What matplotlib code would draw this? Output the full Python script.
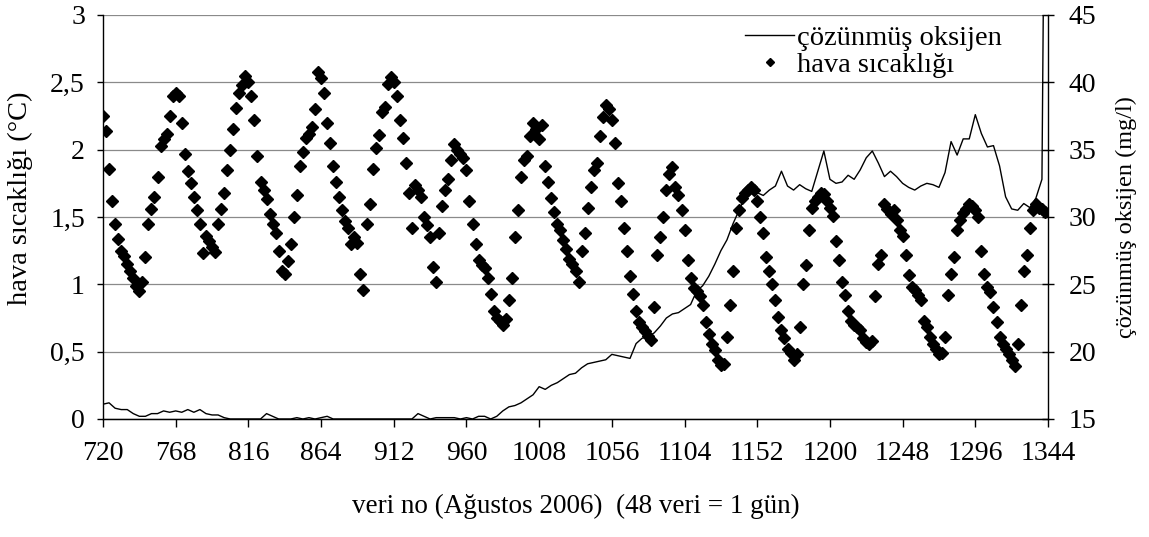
import numpy as np
import matplotlib
matplotlib.use("Agg")
import matplotlib.pyplot as plt
from matplotlib.lines import Line2D

plt.rcParams['font.family'] = ['Liberation Serif', 'DejaVu Serif']

# ---------------------------------------------------------------- data
# air temperature, one reading every 2 records (left axis)
temp_x = np.arange(720, 1343, 2)
hava_sicakligi = [
    # 720 - 766
    2.25, 2.14, 1.86, 1.62, 1.45, 1.34, 1.25, 1.21, 1.15, 1.10, 1.05, 0.99,
    0.95, 1.02, 1.20, 1.45, 1.56, 1.65, 1.80, 2.03, 2.08, 2.12, 2.25, 2.40,
    # 768 - 814
    2.42, 2.40, 2.20, 1.97, 1.84, 1.75, 1.65, 1.55, 1.45, 1.23, 1.36, 1.32,
    1.28, 1.24, 1.45, 1.56, 1.68, 1.85, 2.00, 2.15, 2.31, 2.42, 2.48, 2.55,
    # 816 - 862
    2.50, 2.40, 2.22, 1.95, 1.76, 1.70, 1.63, 1.52, 1.45, 1.38, 1.25, 1.10,
    1.08, 1.17, 1.30, 1.50, 1.66, 1.88, 1.98, 2.09, 2.12, 2.17, 2.30, 2.58,
    # 864 - 910
    2.53, 2.42, 2.20, 2.05, 1.88, 1.76, 1.65, 1.55, 1.47, 1.42, 1.30, 1.35,
    1.31, 1.08, 0.96, 1.45, 1.60, 1.86, 2.01, 2.11, 2.28, 2.32, 2.49, 2.54,
    # 912 - 958
    2.50, 2.40, 2.22, 2.09, 1.90, 1.68, 1.42, 1.74, 1.70, 1.65, 1.50, 1.44,
    1.35, 1.13, 1.02, 1.38, 1.58, 1.70, 1.78, 1.92, 2.04, 2.00, 1.97, 1.94,
    # 960 - 1006
    1.85, 1.62, 1.45, 1.30, 1.18, 1.14, 1.12, 1.05, 0.93, 0.80, 0.75, 0.73,
    0.70, 0.74, 0.88, 1.05, 1.35, 1.55, 1.80, 1.92, 1.95, 2.10, 2.20, 2.15,
    # 1008 - 1054
    2.08, 2.18, 1.88, 1.76, 1.64, 1.54, 1.45, 1.40, 1.33, 1.26, 1.19, 1.15,
    1.10, 1.02, 1.25, 1.38, 1.57, 1.72, 1.85, 1.90, 2.10, 2.24, 2.33, 2.30,
    # 1056 - 1102
    2.22, 2.05, 1.75, 1.62, 1.42, 1.25, 1.06, 0.93, 0.80, 0.72, 0.68, 0.65,
    0.62, 0.59, 0.83, 1.22, 1.35, 1.50, 1.70, 1.82, 1.87, 1.72, 1.66, 1.55,
    # 1104 - 1150
    1.40, 1.18, 1.05, 0.97, 0.95, 0.91, 0.85, 0.72, 0.63, 0.56, 0.51, 0.44,
    0.40, 0.41, 0.61, 0.85, 1.10, 1.42, 1.55, 1.64, 1.68, 1.70, 1.72, 1.70,
    # 1152 - 1198
    1.62, 1.50, 1.38, 1.20, 1.10, 1.00, 0.88, 0.76, 0.66, 0.60, 0.52, 0.49,
    0.44, 0.48, 0.68, 1.00, 1.14, 1.40, 1.57, 1.62, 1.65, 1.68, 1.67, 1.62,
    # 1200 - 1246
    1.57, 1.51, 1.32, 1.18, 1.02, 0.92, 0.80, 0.73, 0.70, 0.68, 0.66, 0.60,
    0.57, 0.56, 0.58, 0.91, 1.15, 1.22, 1.60, 1.56, 1.52, 1.55, 1.48, 1.40,
    # 1248 - 1294
    1.36, 1.22, 1.07, 0.98, 0.96, 0.92, 0.88, 0.73, 0.68, 0.61, 0.56, 0.52,
    0.48, 0.49, 0.61, 0.92, 1.08, 1.20, 1.40, 1.48, 1.53, 1.56, 1.60, 1.58,
    # 1296 - 1342
    1.55, 1.50, 1.25, 1.08, 0.98, 0.94, 0.83, 0.72, 0.61, 0.56, 0.52, 0.48,
    0.44, 0.39, 0.56, 0.85, 1.10, 1.22, 1.42, 1.55, 1.60, 1.57, 1.56, 1.54,
]

# dissolved oxygen, one reading every 4 records (right axis)
do_x = np.r_[np.arange(720, 1341, 4), 1341]
cozunmus_oksijen = [
    # 720 - 808
    16.1, 16.2, 15.8, 15.7, 15.7, 15.4, 15.2, 15.2, 15.4, 15.4, 15.6, 15.5,
    15.6, 15.5, 15.7, 15.5, 15.7, 15.4, 15.3, 15.3, 15.1, 15.0, 15.0,
    # 812 - 900
    15.0, 15.0, 15.0, 15.0, 15.4, 15.2, 15.0, 15.0, 15.0, 15.1, 15.0, 15.1,
    15.0, 15.1, 15.2, 15.0, 15.0, 15.0, 15.0, 15.0, 15.0, 15.0, 15.0,
    # 904 - 992
    15.0, 15.0, 15.0, 15.0, 15.0, 15.0, 15.4, 15.2, 15.0, 15.1, 15.1, 15.1,
    15.1, 15.0, 15.1, 15.0, 15.2, 15.2, 15.0, 15.2, 15.6, 15.9, 16.0,
    # 996 - 1084
    16.2, 16.5, 16.8, 17.4, 17.2, 17.5, 17.7, 18.0, 18.3, 18.4, 18.8, 19.1,
    19.2, 19.3, 19.4, 19.8, 19.7, 19.6, 19.5, 20.6, 21.0, 21.1, 21.4,
    # 1088 - 1176
    21.9, 22.5, 22.8, 22.9, 23.2, 23.5, 24.5, 24.9, 25.6, 26.5, 27.5, 28.3,
    29.5, 30.5, 31.5, 31.8, 31.8, 31.6, 32.0, 32.3, 33.4, 32.3, 32.0,
    # 1180 - 1268
    32.4, 32.1, 31.9, 33.4, 34.9, 32.8, 32.5, 32.6, 33.1, 32.8, 33.5, 34.4,
    34.9, 34.0, 33.0, 33.4, 33.0, 32.5, 32.2, 32.0, 32.3, 32.5, 32.4,
    # 1272 - 1341
    32.2, 33.3, 35.6, 34.6, 35.8, 35.8, 37.6, 36.2, 35.2, 35.3, 33.8, 31.5,
    30.6, 30.5, 31.0, 30.7, 31.4, 32.8, 47.0,
]

x_ticks = [720, 768, 816, 864, 912, 960, 1008, 1056, 1104, 1152, 1200, 1248, 1296, 1344]
left_ticks = [0, 0.5, 1, 1.5, 2, 2.5, 3]
left_tick_labels = ["0", "0,5", "1", "1,5", "2", "2,5", "3"]
right_ticks = [15, 20, 25, 30, 35, 40, 45]

# ---------------------------------------------------------------- figure
fig = plt.figure(figsize=(11.49, 5.37), dpi=100)
ax = fig.add_axes([103 / 1149, 118 / 537, 945 / 1149, 404 / 537])
ax2 = ax.twinx()

ax.set_xlim(720, 1344)
ax.set_ylim(0, 3)
ax2.set_ylim(15, 45)

ax.set_yticks(left_ticks)
ax.set_yticklabels(left_tick_labels)
ax.set_xticks(x_ticks)
ax.set_xticklabels([str(t) for t in x_ticks])
ax2.set_yticks(right_ticks)

for y in left_ticks:
    ax.axhline(y, color="#8a8a8a", lw=0.9, zorder=0)

ax.plot(temp_x, hava_sicakligi, linestyle="none", marker="D",
        markersize=5.8, color="black", zorder=3)
ax2.plot(do_x, cozunmus_oksijen, color="black", lw=1.0, zorder=2)

for a in (ax, ax2):
    a.spines["top"].set_visible(False)
ax.spines["right"].set_visible(False)
ax2.spines["left"].set_visible(False)
for s in (ax.spines["left"], ax.spines["bottom"], ax2.spines["right"]):
    s.set_linewidth(1.0)

ax.tick_params(axis="x", direction="out", length=6, width=1, pad=10, labelsize=20)
ax.tick_params(axis="y", direction="out", length=4, width=1, pad=9, labelsize=20)
ax2.tick_params(axis="y", direction="inout", length=8, width=1, pad=11, labelsize=20)

ax.set_ylabel("hava sıcaklığı (°C)", fontsize=20.5)
ax.yaxis.set_label_coords(-0.074, 0.547)
ax2.set_ylabel("çözünmüş oksijen (mg/l)", fontsize=17.5, labelpad=14)
ax.set_xlabel("veri no (Ağustos 2006)  (48 veri = 1 gün)", fontsize=19.5, labelpad=20)

handles = [
    Line2D([], [], color="black", lw=1.0),
    Line2D([], [], linestyle="none", marker="D", markersize=4.5, color="black"),
]
ax2.legend(handles, ["çözünmüş oksijen", "hava sıcaklığı"],
           loc="upper left", bbox_to_anchor=(0.679, 0.975), frameon=False,
           fontsize=20.5, handlelength=1.75, handletextpad=0.1,
           labelspacing=0.02, borderpad=0, borderaxespad=0)

fig.savefig("out.png", dpi=100)
